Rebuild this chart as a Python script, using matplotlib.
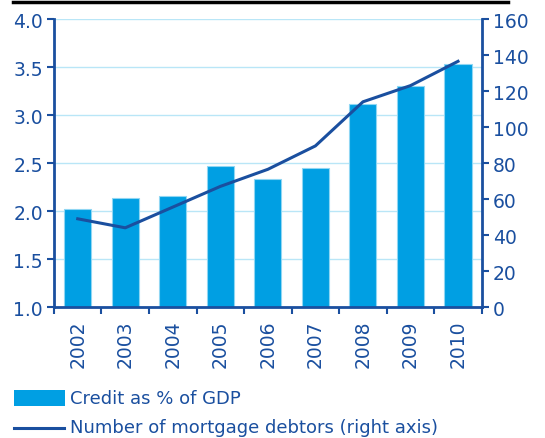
import matplotlib
matplotlib.use("Agg")
import matplotlib.pyplot as plt
from matplotlib.patches import Rectangle
from matplotlib.lines import Line2D
import numpy as np

years = ["2002", "2003", "2004", "2005", "2006", "2007", "2008", "2009", "2010"]
credit_pct_gdp = [2.02, 2.14, 2.16, 2.47, 2.33, 2.45, 3.11, 3.30, 3.53]
mortgage_debtors = [49, 44, 55.5, 67, 76.5, 89.5, 114, 123, 136.5]

left_ticks = [1.0, 1.5, 2.0, 2.5, 3.0, 3.5, 4.0]
right_ticks = [0, 20, 40, 60, 80, 100, 120, 140, 160]

BAR = "#009fe3"
BAR_EDGE = "#8fd6f3"
DARK = "#1a4f9f"
GRID = "#b9e6f7"

plt.rcParams["font.family"] = ["DejaVu Sans"]

fig = plt.figure(figsize=(5.45, 4.39), dpi=100)
ax = fig.add_axes([0.099, 0.2984, 0.785, 0.656])
ax2 = ax.twinx()

x = np.arange(len(years))
ax.bar(x, credit_pct_gdp, width=0.57, bottom=0, color=BAR, edgecolor=BAR_EDGE,
       linewidth=0.8, zorder=2)
ax.set_ylim(1.0, 4.0)
ax.set_xlim(-0.5, len(years) - 0.5)
ax.set_yticks(left_ticks)
ax.set_yticklabels([f"{v:.1f}" for v in left_ticks])
ax.yaxis.grid(True, color=GRID, linewidth=1.0, zorder=0)
ax.set_axisbelow(True)

ax.set_xticks(x)
ax.set_xticklabels(years, rotation=90)
ax.set_xticks(np.arange(-0.5, len(years), 1.0), minor=True)
ax.tick_params(axis="x", which="major", length=0, pad=9, labelsize=13.5, labelcolor=DARK)
ax.tick_params(axis="x", which="minor", length=5, width=1.5, color=DARK, direction="out")
ax.tick_params(axis="y", length=5, width=1.5, color=DARK, labelsize=13.5, labelcolor=DARK, pad=3)

ax2.plot(x, mortgage_debtors, color=DARK, linewidth=2.2, zorder=3)
ax2.set_ylim(0, 160)
ax2.set_yticks(right_ticks)
ax2.tick_params(axis="y", length=5, width=1.5, color=DARK, labelsize=13.5, labelcolor=DARK, pad=3)

for a in (ax, ax2):
    a.spines["top"].set_visible(False)
    for s in ("left", "right", "bottom"):
        a.spines[s].set_color(DARK)
        a.spines[s].set_linewidth(2.0)
ax.spines["right"].set_visible(False)
ax2.spines["left"].set_visible(False)
ax2.spines["bottom"].set_visible(False)

# heavy rule across the top
fig.add_artist(Line2D([13 / 545, 508 / 545], [1 - 3 / 439, 1 - 3 / 439],
                      color="black", linewidth=2.5, transform=fig.transFigure))

# legend
fig.add_artist(Rectangle((14 / 545, 1 - 407 / 439), 51 / 545, 16 / 439,
                         facecolor=BAR, edgecolor="none", transform=fig.transFigure))
fig.text(70 / 545, 1 - 399 / 439, "Credit as % of GDP", color=DARK, fontsize=13,
         va="center", ha="left")
fig.add_artist(Line2D([14 / 545, 64 / 545], [1 - 429 / 439, 1 - 429 / 439],
                      color=DARK, linewidth=2.2, transform=fig.transFigure))
fig.text(70 / 545, 1 - 428 / 439, "Number of mortgage debtors (right axis)", color=DARK,
         fontsize=13, va="center", ha="left")

fig.savefig("out.png", dpi=100)
